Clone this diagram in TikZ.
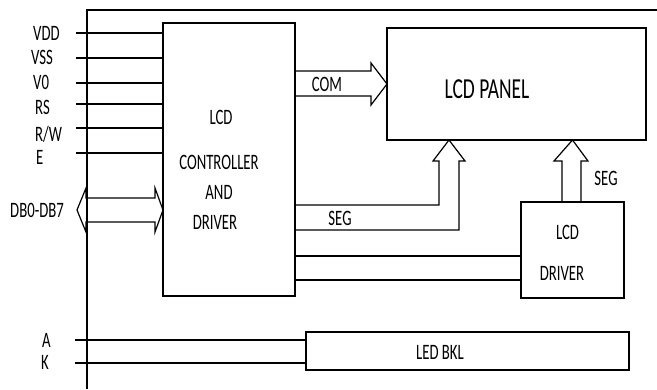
\documentclass[tikz,border=0pt]{standalone}
\usepackage{fontspec}
\setmainfont{Carlito}[FakeStretch=0.67]
\usetikzlibrary{
  calc,
  positioning
}
\tikzset{
  % For wires and arrow outlines.
  line/.style={
    line width=1.2pt},
%
  % For the boxes.
  block/.style={
    draw,
    line width=1.2pt,
    inner sep=0pt,
    outer sep=0pt},
%
  % For signal and box names.
  wire label/.style={
    font=\fontsize{22}{22}\selectfont,
    inner sep=0pt},
%
  % For the panel name.
  big label/.style={
    font=\fontsize{29}{29}\selectfont,
    inner sep=0pt},
}

\begin{document}
\begin{tikzpicture}[x=1pt, y=-1pt]
  \useasboundingbox (0,0) rectangle (657,389);

  % Frame of the module.
  \draw[line] (87,389) -- (87,10) -- (657,10);

  \node[block, minimum width=132pt, minimum height=273pt] (ctrl) at (229,159.5) {};
  \node[block, minimum width=259pt, minimum height=112pt] (panel) at (516.5,84) {};
  \node[block, minimum width=103pt, minimum height=96pt] (drv) at (572.5,250) {};
  \node[block, minimum width=323pt, minimum height=38pt] (bkl) at (467.5,351) {};

  \node[wire label] (ctrl lcd) at (221,117) {LCD};
  \node[wire label] (ctrl ctl) at (219,162) {CONTROLLER};
  \node[wire label] (ctrl and) at (219,192) {AND};
  \node[wire label] (ctrl drv) at (215,222) {DRIVER};
  \node[big label] (panel name) at (487,89) {LCD PANEL};
  \node[wire label] (drv lcd) at (567.5,232) {LCD};
  \node[wire label] (drv drv) at (562,273) {DRIVER};
  \node[wire label] (bkl name) at (440,352) {LED BKL};

  % Inputs.
  \coordinate (vdd in) at (76,33);
  \coordinate (vss in) at (76,58);
  \coordinate (v0 in) at (76,83);
  \coordinate (rs in) at (76,104);
  \coordinate (rw in) at (76,128);
  \coordinate (e in) at (76,153);
  \coordinate (a in) at (75,340);
  \coordinate (k in) at (75,363);

  \node[wire label, anchor=west] (vdd) at (33,33) {VDD};
  \node[wire label, anchor=west] (vss) at (31,57) {VSS};
  \node[wire label, anchor=west] (v0) at (33,82) {V0};
  \node[wire label, anchor=west] (rs) at (35,107) {RS};
  \node[wire label, anchor=west] (rw) at (35,134) {R/W};
  \node[wire label, anchor=west] (e) at (36,157) {E};
  \node[wire label, anchor=west] (db) at (10,210) {DB0-DB7};
  \node[wire label, anchor=west] (a) at (42,340) {A};
  \node[wire label, anchor=west] (k) at (41,362) {K};

  \draw[line] (vdd in) -- (vdd in -| ctrl.west);
  \draw[line] (vss in) -- (vss in -| ctrl.west);
  \draw[line] (v0 in) -- (v0 in -| ctrl.west);
  \draw[line] (rs in) -- (rs in -| ctrl.west);
  \draw[line] (rw in) -- (rw in -| ctrl.west);
  \draw[line] (e in) -- (e in -| ctrl.west);
  \draw[line] (a in) -- (a in -| bkl.west);
  \draw[line] (k in) -- (k in -| bkl.west);

  % Data bus, both ways.
  \coordinate (db tip) at (77,210);
  \draw[line] (db tip) -- (86,188) -- (86,198) -- (155,198) -- (155,188)
    -- (db tip -| ctrl.west) -- (155,232) -- (155,222) -- (86,222)
    -- (86,232) -- cycle;

  % COM bus.
  \draw[line] (295,71) -- (371,71) -- (371,63) -- (panel.west)
    -- (371,105) -- (371,96) -- (295,96);
  \node[wire label] (com) at (327,84) {COM};

  % SEG bus from the controller.
  \coordinate (seg tip) at (449,140);
  \draw[line] (295,205) -- (439,205) -- (439,161) -- (433,161) -- (seg tip)
    -- (465,161) -- (459,161) -- (459,230) -- (295,230);
  \node[wire label] (seg a) at (340,218) {SEG};

  % SEG bus from the driver.
  \draw[line] (562,202) -- (562,161) -- (554,161) -- (drv.north |- panel.south)
    -- (588,161) -- (581,161) -- (581,202);
  \node[wire label] (seg b) at (606,178) {SEG};

  % Controller to driver.
  \coordinate (cd1) at (295,256);
  \coordinate (cd2) at (295,280);
  \draw[line] (cd1) -- (cd1 -| drv.west);
  \draw[line] (cd2) -- (cd2 -| drv.west);
\end{tikzpicture}
\end{document}
